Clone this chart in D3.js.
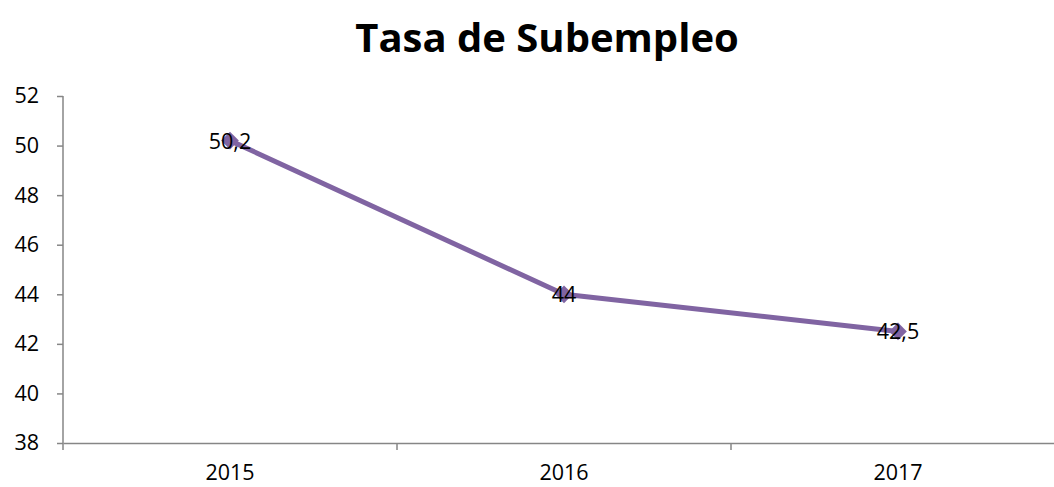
<!DOCTYPE html>
<html>
<head>
<meta charset="utf-8">
<script src="https://cdn.jsdelivr.net/npm/d3@7/dist/d3.min.js"></script>
<style>
	body { margin: 0; background: #fff; }
	svg { display: block; font-family: 'Open Sans', 'Noto Sans', sans-serif; }
</style>
</head>
<body>
<svg width="1054" height="487"></svg>
<script>
let years = ['2015', '2016', '2017']
let rates = [50.2, 44, 42.5]
let rateLabels = ['50,2', '44', '42,5']
let yTicks = [38, 40, 42, 44, 46, 48, 50, 52]

let font = "'Open Sans', 'Noto Sans', sans-serif"
let svg = d3.select('svg')

let xScale = d3.scaleBand()
	.domain(years)
	.range([63, 1065])

let yScale = d3.scaleLinear()
	.domain([38, 52])
	.range([443, 96])

svg.append('text')
	.attr('x', 547)
	.attr('y', 52)
	.attr('text-anchor', 'middle')
	.attr('font-size', 40)
	.attr('font-weight', 'bold')
	.text('Tasa de Subempleo')

// left axis
let leftAxisG = svg.append('g')
	.attr('transform', 'translate(63, 0)')
	.call(d3.axisLeft(yScale).tickValues(yTicks).tickSize(6).tickPadding(18))
leftAxisG.attr('font-family', font)
leftAxisG.select('.domain').attr('stroke', '#868686').attr('stroke-width', 1.5).attr('d', 'M0,96V443')
leftAxisG.selectAll('.tick line').attr('stroke', '#868686').attr('stroke-width', 1.5)
leftAxisG.selectAll('.tick text').attr('font-size', 21.5).attr('fill', '#000')

// bottom axis, labels centred in each band
let bottomAxisG = svg.append('g')
	.attr('transform', 'translate(0, 443)')
	.call(d3.axisBottom(xScale).tickSize(0).tickPadding(22))
bottomAxisG.attr('font-family', font)
bottomAxisG.select('.domain').attr('stroke', '#868686').attr('stroke-width', 1.5)
bottomAxisG.selectAll('.tick text').attr('font-size', 21.5).attr('fill', '#000')

// tick marks between categories
let edges = years.map(d => xScale(d)).concat([xScale.range()[1]])
bottomAxisG.selectAll('line.edge')
	.data(edges)
	.enter()
	.append('line')
	.attr('class', 'edge')
	.attr('x1', d => d)
	.attr('x2', d => d)
	.attr('y1', 0)
	.attr('y2', 7)
	.attr('stroke', '#868686')
	.attr('stroke-width', 1.5)

let points = years.map((y, i) => ({ year: y, value: rates[i], label: rateLabels[i] }))
let cx = d => xScale(d.year) + xScale.bandwidth() / 2

let line = d3.line()
	.x(cx)
	.y(d => yScale(d.value))

svg.append('path')
	.datum(points)
	.attr('d', line)
	.attr('fill', 'none')
	.attr('stroke', '#8064a2')
	.attr('stroke-width', 5)
	.attr('stroke-linejoin', 'round')

svg.selectAll('path.marker')
	.data(points)
	.enter()
	.append('path')
	.attr('class', 'marker')
	.attr('d', d3.symbol().type(d3.symbolDiamond2).size(200))
	.attr('transform', d => `translate(${cx(d)}, ${yScale(d.value)})`)
	.attr('fill', '#8064a2')

svg.selectAll('text.label')
	.data(points)
	.enter()
	.append('text')
	.attr('class', 'label')
	.attr('x', cx)
	.attr('y', d => yScale(d.value) + 8)
	.attr('text-anchor', 'middle')
	.attr('font-size', 21.5)
	.attr('fill', '#000')
	.text(d => d.label)
</script>
</body>
</html>
